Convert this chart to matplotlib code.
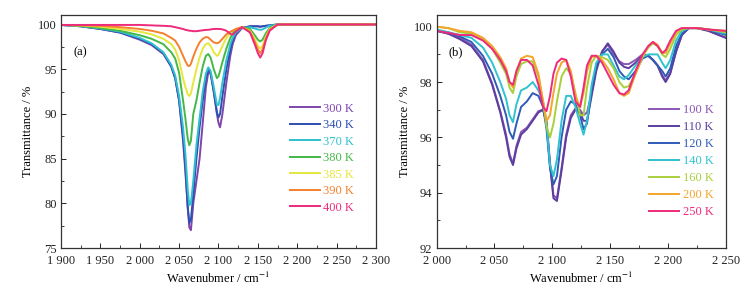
import matplotlib
matplotlib.use("Agg")
import matplotlib.pyplot as plt
from matplotlib.ticker import MultipleLocator, FuncFormatter

plt.rcParams["font.family"] = ["Liberation Serif", "DejaVu Serif"]
plt.rcParams["mathtext.fontset"] = "stix"

# ---------------------------------------
# Data (a): high temperature spectra
# ---------------------------------------
wn_a = [1900, 1925, 1950, 1975, 2000, 2015, 2030, 2040, 2045, 2050, 2055, 2058,
        2061, 2063, 2065, 2068, 2072, 2076, 2080, 2084, 2087, 2090, 2094, 2098,
        2100, 2102, 2105, 2110, 2115, 2118, 2122, 2130, 2140, 2146, 2150, 2153,
        2156, 2160, 2165, 2175, 2200, 2250, 2300]

labels_a = ["300 K", "340 K", "370 K", "380 K", "385 K", "390 K", "400 K"]
colors_a = ["#7E45AC", "#2E4FB2", "#2EC0CE", "#45B847", "#E6E63C", "#F5802E", "#EE2A7B"]

t300 = [99.95, 99.8, 99.5, 99.1, 98.3, 97.7, 96.7, 95.3, 94.0, 91.5, 87.0, 83.5,
        79.5, 77.3, 77.0, 80.0, 82.5, 85.0, 89.0, 93.0, 94.6, 94.5, 92.5, 90.0,
        89.0, 88.5, 90.0, 93.5, 96.5, 97.8, 98.8, 99.6, 99.8, 99.8, 99.8, 99.75,
        99.8, 99.85, 99.9, 100.0, 100.0, 100.0, 100.0]
t340 = [99.95, 99.8, 99.5, 99.1, 98.4, 97.8, 96.8, 95.3, 94.0, 91.5, 87.5, 84.0,
        79.5, 77.8, 78.2, 81.0, 85.0, 88.5, 91.5, 94.0, 95.0, 94.6, 92.5, 90.2,
        89.6, 90.0, 92.0, 95.0, 97.2, 98.2, 99.0, 99.6, 99.8, 99.8, 99.8, 99.75,
        99.8, 99.85, 99.9, 100.0, 100.0, 100.0, 100.0]
t370 = [99.95, 99.8, 99.55, 99.2, 98.5, 97.9, 96.9, 95.5, 94.3, 92.0, 88.5, 85.5,
        81.5, 79.8, 80.0, 82.5, 86.5, 89.5, 92.5, 94.5, 95.2, 94.8, 93.0, 91.0,
        91.0, 91.8, 93.5, 96.0, 97.8, 98.5, 99.1, 99.6, 99.7, 99.55, 99.45, 99.4,
        99.45, 99.65, 99.85, 100.0, 100.0, 100.0, 100.0]
t380 = [99.95, 99.85, 99.6, 99.3, 98.8, 98.4, 97.8, 96.9, 96.2, 94.6, 91.5, 89.5,
        87.2, 86.5, 87.0, 90.0, 91.5, 93.5, 95.3, 96.5, 96.7, 96.3, 95.0, 94.0,
        94.2, 94.8, 95.8, 97.3, 98.5, 99.0, 99.4, 99.7, 99.5, 98.8, 98.3, 98.1,
        98.3, 99.0, 99.6, 100.0, 100.0, 100.0, 100.0]
t385 = [99.95, 99.9, 99.75, 99.5, 99.2, 98.9, 98.4, 97.8, 97.2, 96.0, 94.0, 93.0,
        92.2, 92.0, 92.3, 93.5, 95.0, 96.3, 97.3, 97.8, 97.9, 97.6, 96.9, 96.5,
        96.6, 97.0, 97.6, 98.5, 99.1, 99.3, 99.5, 99.7, 99.3, 98.4, 97.6, 97.3,
        97.6, 98.6, 99.5, 100.0, 100.0, 100.0, 100.0]
t390 = [99.95, 99.9, 99.85, 99.7, 99.5, 99.3, 99.0, 98.5, 98.2, 97.5, 96.5, 95.9,
        95.4, 95.35, 95.6, 96.4, 97.3, 98.0, 98.4, 98.6, 98.55, 98.3, 98.0, 97.9,
        97.95, 98.1, 98.4, 98.9, 99.2, 99.3, 99.5, 99.7, 99.2, 98.1, 97.2, 96.8,
        97.2, 98.4, 99.4, 100.0, 100.0, 100.0, 100.0]
t400 = [99.95, 99.95, 99.95, 99.95, 99.95, 99.9, 99.85, 99.8, 99.7, 99.6, 99.5, 99.4,
        99.35, 99.3, 99.3, 99.25, 99.25, 99.3, 99.35, 99.4, 99.4, 99.45, 99.5, 99.5,
        99.5, 99.5, 99.45, 99.3, 98.95, 98.85, 99.2, 99.7, 99.1, 97.8, 96.8, 96.3,
        96.8, 98.2, 99.3, 100.0, 100.0, 100.0, 100.0]
series_a = [t300, t340, t370, t380, t385, t390, t400]

# ---------------------------------------
# Data (b): low temperature spectra
# ---------------------------------------
wn_b = [2000, 2010, 2020, 2030, 2040, 2048, 2055, 2060, 2063, 2066, 2069, 2073,
        2078, 2083, 2088, 2092, 2095, 2098, 2101, 2104, 2108, 2112, 2116, 2120,
        2124, 2127, 2130, 2134, 2138, 2143, 2148, 2153, 2158, 2162, 2166, 2172,
        2178, 2183, 2187, 2191, 2195, 2198, 2202, 2207, 2212, 2218, 2225, 2235, 2250]

labels_b = ["100 K", "110 K", "120 K", "140 K", "160 K", "200 K", "250 K"]
colors_b = ["#8C55B4", "#5B3E9F", "#2F5BB7", "#30C2CF", "#A8CF3C", "#F5A52A", "#EE2A7B"]

t100 = [99.85, 99.75, 99.6, 99.35, 98.8, 97.95, 96.95, 96.1, 95.4, 95.05, 95.7, 96.2,
        96.35, 96.65, 96.95, 97.0, 96.6, 95.1, 93.9, 93.8, 94.9, 96.1, 96.8, 97.05,
        97.0, 96.8, 96.9, 97.6, 98.5, 99.1, 99.35, 99.0, 98.75, 98.65, 98.65, 98.8,
        99.0, 98.95, 98.8, 98.6, 98.25, 98.05, 98.35, 99.1, 99.7, 99.95, 99.95, 99.85, 99.6]
t110 = [99.85, 99.75, 99.55, 99.3, 98.75, 97.9, 96.9, 96.0, 95.3, 95.0, 95.6, 96.1,
        96.3, 96.6, 96.9, 97.0, 96.5, 95.0, 93.8, 93.7, 94.8, 96.0, 96.7, 97.0,
        96.9, 96.6, 96.6, 97.5, 98.4, 99.1, 99.4, 99.1, 98.7, 98.55, 98.5, 98.7,
        98.95, 98.95, 98.8, 98.6, 98.2, 98.0, 98.3, 99.1, 99.7, 99.95, 99.95, 99.85, 99.6]
t120 = [99.85, 99.8, 99.65, 99.45, 98.95, 98.3, 97.5, 96.8, 96.2, 95.95, 96.5, 97.1,
        97.3, 97.6, 97.5, 97.1, 96.3, 94.9, 94.3, 94.6, 96.0, 97.0, 97.3, 97.2,
        96.8, 96.3, 96.5, 97.7, 98.6, 99.0, 99.2, 98.9, 98.4, 98.2, 98.1, 98.4,
        98.85, 98.95, 98.8, 98.6, 98.4, 98.2, 98.5, 99.3, 99.75, 99.95, 99.95, 99.9, 99.7]
t140 = [99.9, 99.8, 99.7, 99.6, 99.25, 98.7, 98.0, 97.4, 96.8, 96.55, 97.2, 97.7,
        97.8, 98.0, 97.7, 97.3, 96.5, 95.0, 94.6, 95.2, 96.6, 97.5, 97.5, 97.1,
        96.5, 96.1, 96.6, 97.9, 98.7, 99.0, 99.0, 98.6, 98.2, 98.1, 98.25, 98.6,
        98.9, 99.0, 99.0, 99.0, 98.7, 98.5, 98.8, 99.5, 99.85, 99.95, 99.95, 99.9, 99.75]
t160 = [100.0, 99.95, 99.8, 99.75, 99.55, 99.2, 98.7, 98.3, 97.8, 97.6, 98.2, 98.65,
        98.75, 98.75, 98.2, 97.3, 96.4, 96.0, 96.5, 97.3, 98.2, 98.5, 98.3, 97.6,
        96.8, 96.8, 97.8, 98.7, 98.95, 98.9, 98.8, 98.5, 98.0, 97.8, 97.85, 98.3,
        98.9, 99.25, 99.4, 99.3, 99.0, 98.9, 99.2, 99.7, 99.9, 99.95, 99.95, 99.9, 99.8]
t200 = [100.0, 99.95, 99.85, 99.8, 99.6, 99.3, 98.9, 98.5, 98.0, 97.8, 98.4, 98.85,
        98.95, 98.9, 98.3, 97.3, 96.6, 96.8, 97.6, 98.3, 98.7, 98.8, 98.4, 97.5,
        97.1, 97.6, 98.4, 98.9, 98.95, 98.8, 98.5, 98.1, 97.6, 97.5, 97.6, 98.3,
        98.95, 99.3, 99.45, 99.35, 99.05, 99.05, 99.4, 99.8, 99.95, 99.95, 99.95, 99.9, 99.85]
t250 = [99.85, 99.78, 99.7, 99.7, 99.5, 99.2, 98.8, 98.4, 98.0, 97.9, 98.4, 98.8,
        98.8, 98.6, 97.9, 97.1, 96.95, 97.5, 98.3, 98.7, 98.85, 98.8, 98.2, 97.3,
        97.1, 97.8, 98.6, 98.95, 98.95, 98.7, 98.3, 97.9, 97.6, 97.55, 97.7, 98.4,
        99.0, 99.3, 99.45, 99.3, 99.05, 99.15, 99.5, 99.85, 99.95, 99.95, 99.95, 99.9, 99.85]
series_b = [t100, t110, t120, t140, t160, t200, t250]

FS = 9


def thousands(v, pos):
    s = f"{int(round(v)):,}"
    return s.replace(",", " ")


def style_axis(ax, ylabelpad):
    for sp in ax.spines.values():
        sp.set_color("#333333")
        sp.set_linewidth(0.9)
    ax.tick_params(which="both", direction="in", top=False, right=False,
                   labelsize=FS, colors="#222222")
    ax.tick_params(which="major", length=3.5, width=0.7)
    ax.tick_params(which="minor", length=2.0, width=0.6)
    ax.tick_params(axis="x", which="major", pad=5)
    ax.tick_params(axis="y", which="major", pad=3)
    ax.xaxis.set_major_formatter(FuncFormatter(thousands))
    ax.set_xlabel("Wavenubmer / cm$^{-1}$", fontsize=FS, labelpad=3)
    ax.set_ylabel("Transmittance / %", fontsize=FS, labelpad=ylabelpad)


fig = plt.figure(figsize=(7.49, 2.96), dpi=100)
ax1 = fig.add_axes([0.0814, 0.162, 0.4206, 0.787])
ax2 = fig.add_axes([0.583, 0.162, 0.386, 0.787])

for y, lab, c in zip(series_a, labels_a, colors_a):
    ax1.plot(wn_a, y, color=c, lw=1.4, label=lab)
ax1.set_xlim(1900, 2300)
ax1.set_ylim(75, 101.05)
ax1.xaxis.set_major_locator(MultipleLocator(50))
ax1.xaxis.set_minor_locator(MultipleLocator(25))
ax1.yaxis.set_major_locator(MultipleLocator(5))
ax1.yaxis.set_minor_locator(MultipleLocator(2.5))
style_axis(ax1, 3)
ax1.text(0.04, 0.84, "(a)", transform=ax1.transAxes, fontsize=FS, va="center")
ax1.legend(loc="upper left", bbox_to_anchor=(0.71, 0.645), frameon=False,
           fontsize=FS, handlelength=2.4, handletextpad=0.3,
           labelspacing=0.36, labelcolor="linecolor", borderaxespad=0)

for y, lab, c in zip(series_b, labels_b, colors_b):
    ax2.plot(wn_b, y, color=c, lw=1.4, label=lab)
ax2.set_xlim(2000, 2250)
ax2.set_ylim(92, 100.42)
ax2.xaxis.set_major_locator(MultipleLocator(50))
ax2.xaxis.set_minor_locator(MultipleLocator(25))
ax2.yaxis.set_major_locator(MultipleLocator(2))
ax2.yaxis.set_minor_locator(MultipleLocator(1))
style_axis(ax2, 2)
ax2.text(0.04, 0.84, "(b)", transform=ax2.transAxes, fontsize=FS, va="center")
ax2.legend(loc="upper left", bbox_to_anchor=(0.717, 0.64), frameon=False,
           fontsize=FS, handlelength=2.4, handletextpad=0.3,
           labelspacing=0.4, labelcolor="linecolor", borderaxespad=0)

fig.savefig("out.png", dpi=100)
